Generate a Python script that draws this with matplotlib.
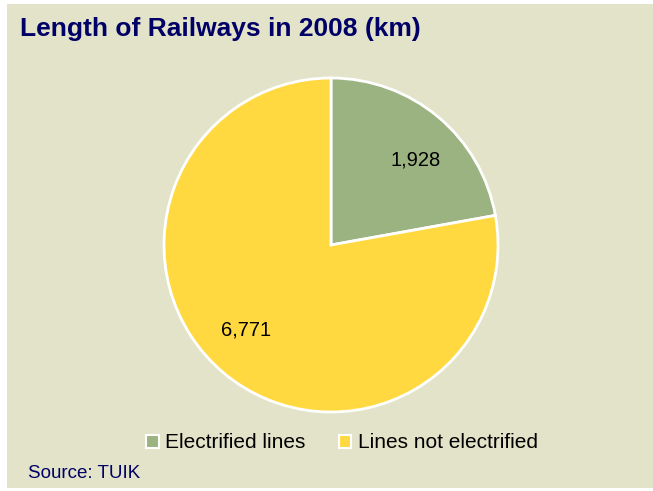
import numpy as np
from matplotlib import pyplot as plt
from matplotlib.patches import Patch

categories = ['Electrified lines', 'Lines not electrified']
values = [1928, 6771]
colors = ['#9bb381', '#ffd93f']

fig = plt.figure(figsize=(6.53, 4.91), dpi=100)
fig.patch.set_facecolor('white')
# beige panel behind everything
fig.patches.append(plt.Rectangle((7 / 653, 3 / 491), 646 / 653, 484 / 491,
                                 transform=fig.transFigure, facecolor='#e3e3c9',
                                 edgecolor='none', zorder=-1))

ax = fig.add_axes([164 / 653, 1 - 412 / 491, 334 / 653, 334 / 491])
ax.set_facecolor('none')
total = sum(values)
wedges, texts, autotexts = ax.pie(
    values, colors=colors, startangle=90, counterclock=False,
    autopct=lambda p: '{:,.0f}'.format(p * total / 100), pctdistance=0.72,
    wedgeprops=dict(edgecolor='white', linewidth=2),
    textprops=dict(fontsize=14.5, family='Liberation Sans', color='black'))
# nudge labels a little clockwise, like the original spreadsheet layout
rot = np.deg2rad(-5)
for t in autotexts:
    x, y = t.get_position()
    t.set_position((x * np.cos(rot) - y * np.sin(rot), x * np.sin(rot) + y * np.cos(rot)))
ax.set_xlim(-1, 1)
ax.set_ylim(-1, 1)
ax.set_aspect('equal')

fig.text(20 / 653, 1 - 29 / 491, 'Length of Railways in 2008 (km)',
         fontsize=19, fontweight='bold', color='#000066',
         family='Liberation Sans', va='center', ha='left')

handles = [Patch(facecolor=c, edgecolor='white', linewidth=1.5) for c in colors]
fig.legend(handles, categories, loc='center', bbox_to_anchor=(342 / 653, 1 - 443 / 491),
           ncol=2, frameon=False, handlelength=0.6, handleheight=0.6,
           handletextpad=0.3, columnspacing=1.6,
           prop=dict(family='Liberation Sans', size=15))

fig.text(28 / 653, 1 - 474 / 491, 'Source: TUIK', fontsize=13.5, color='#000066',
         family='Liberation Sans', va='center', ha='left')

fig.savefig('out.png', dpi=100, facecolor=fig.get_facecolor())
